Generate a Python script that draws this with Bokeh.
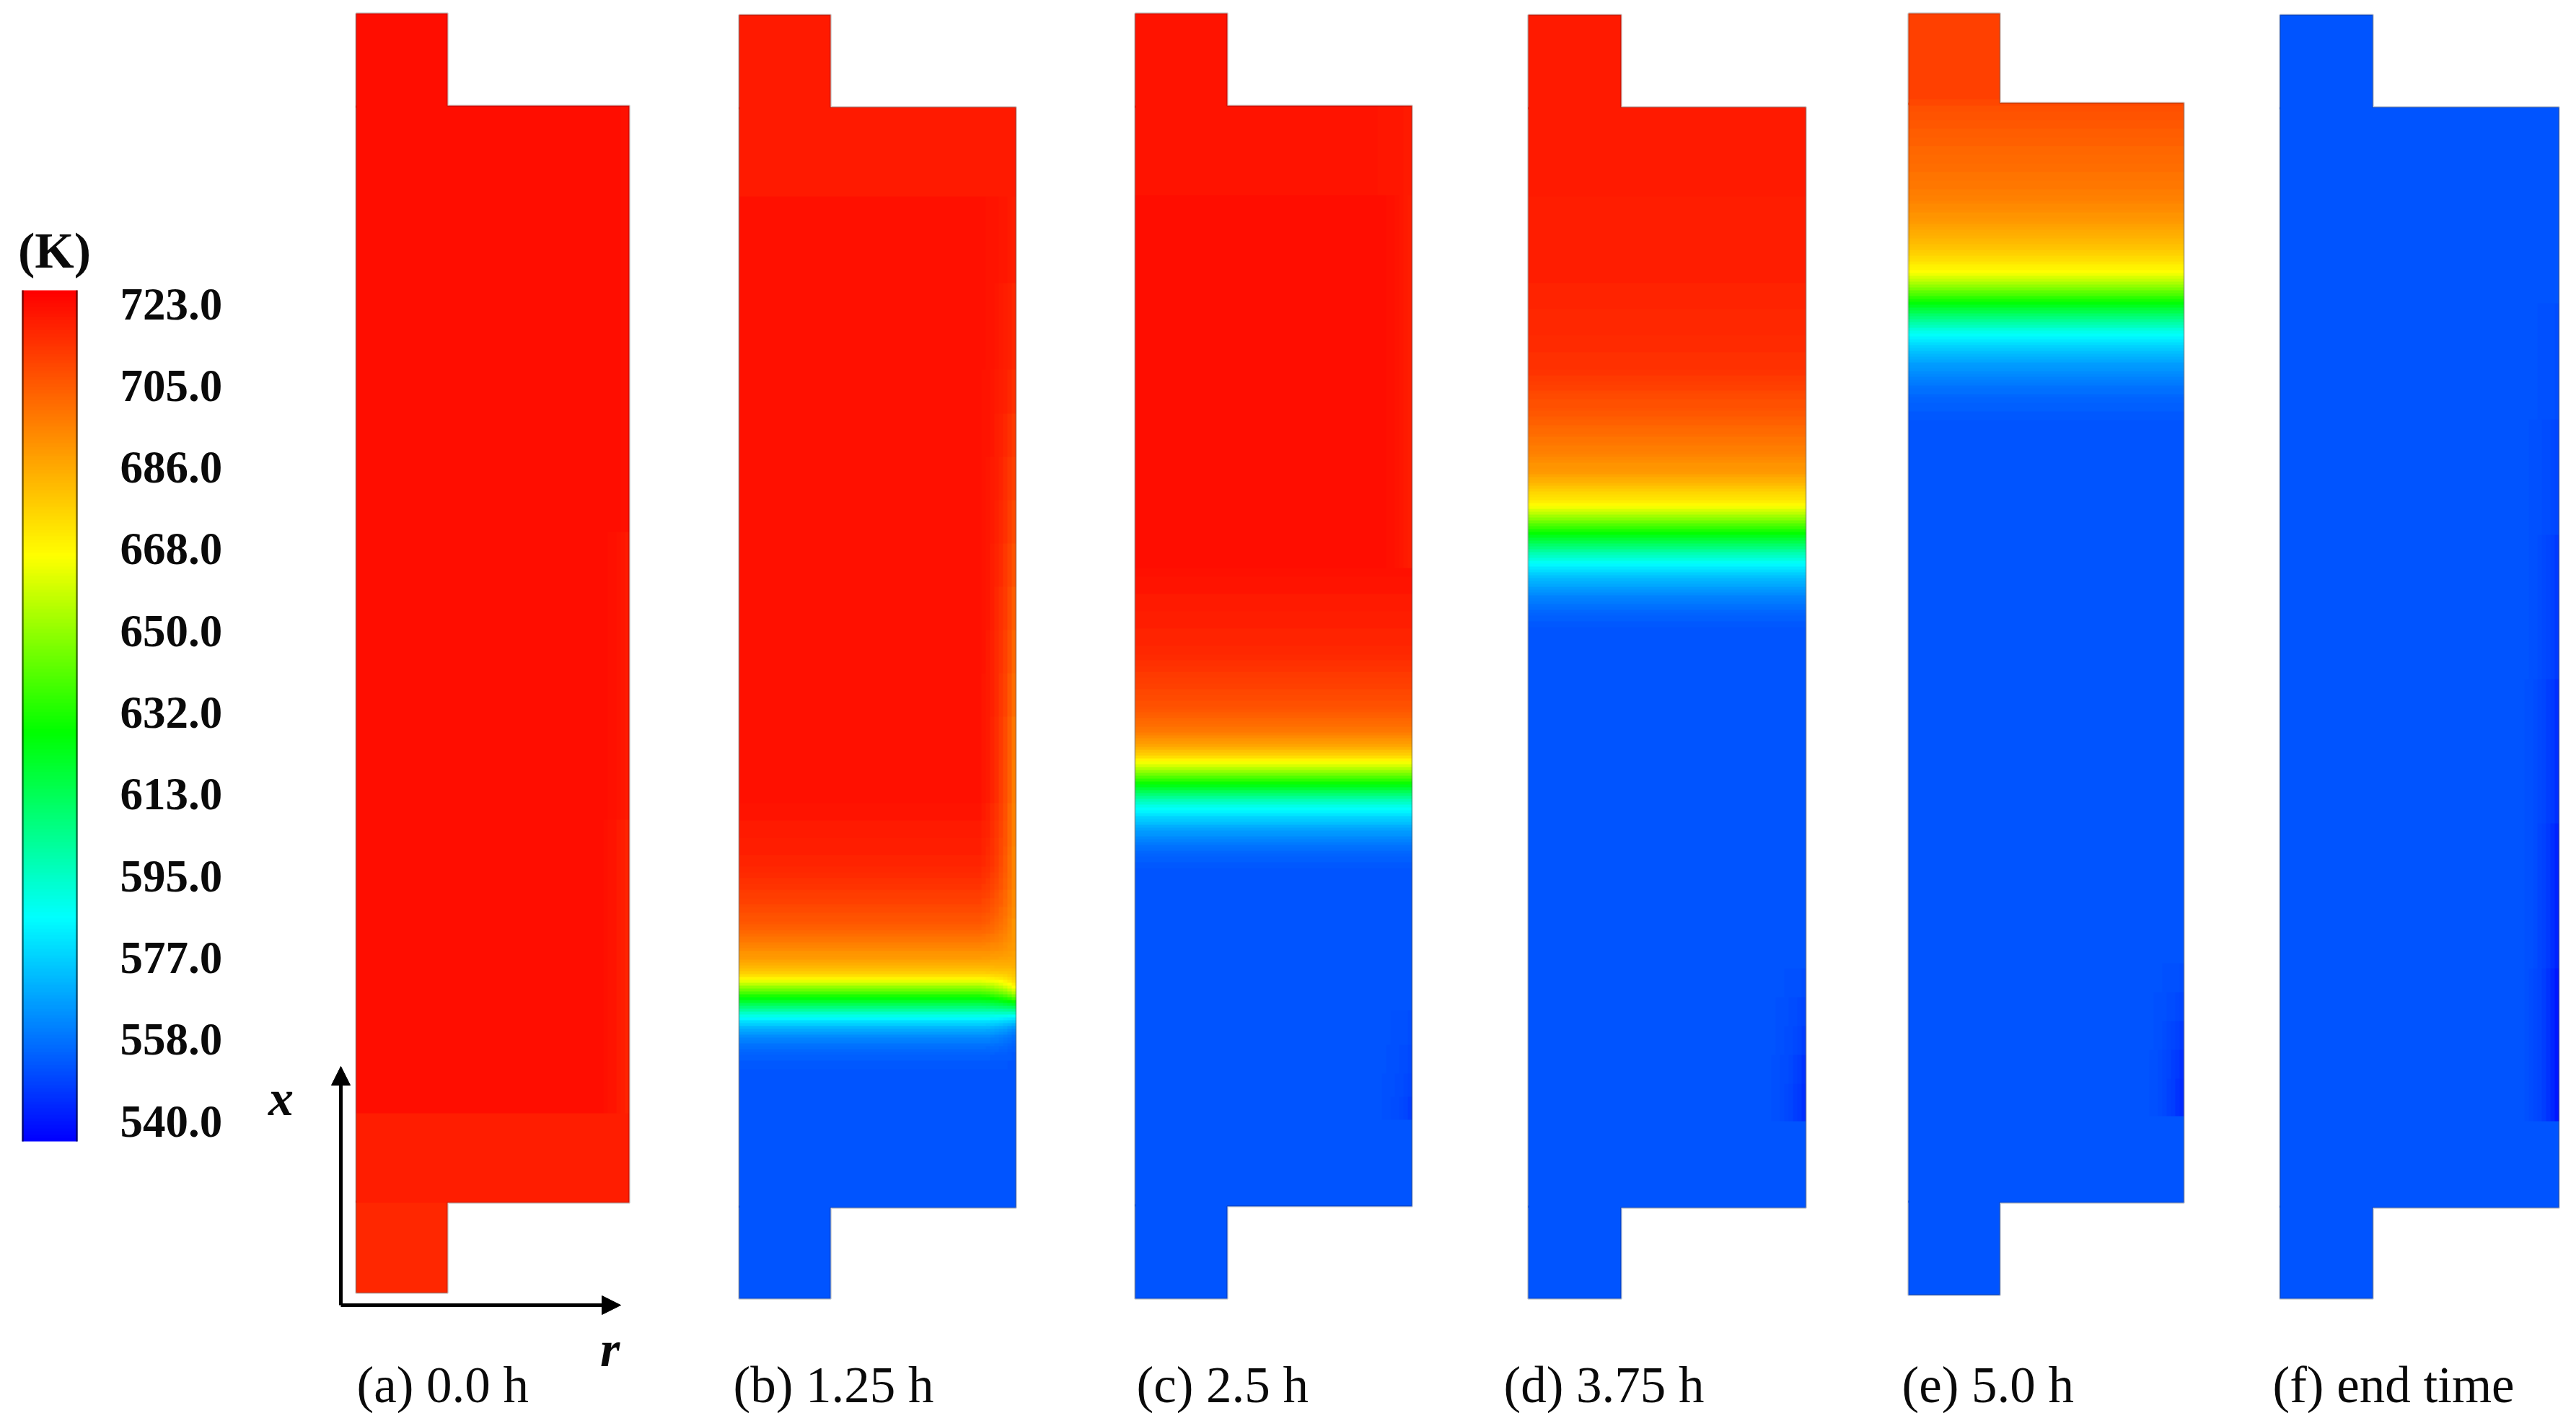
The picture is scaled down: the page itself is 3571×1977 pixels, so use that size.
import numpy as np
from bokeh.embed import file_html
from bokeh.models import Arrow, ColumnDataSource, LinearColorMapper, NormalHead, Range1d
from bokeh.plotting import figure
from bokeh.resources import INLINE

# ---------- values ----------
CAPTIONS = ["(a) 0.0 h", "(b) 1.25 h", "(c) 2.5 h", "(d) 3.75 h", "(e) 5.0 h", "(f) end time"]
TICK_LABELS = ["723.0", "705.0", "686.0", "668.0", "650.0", "632.0", "613.0", "595.0", "577.0", "558.0", "540.0"]
UNIT = "(K)"
T_MIN, T_MAX = 540.0, 723.0
# colour-scale stops (temperature, colour) as seen on the bar
STOP_T = [723, 666, 628, 588, 540]
STOP_RGB = [(255, 0, 0), (255, 255, 0), (0, 255, 0), (0, 255, 255), (0, 0, 255)]
COLD = 556  # temperature of the cold zone

# temperature (K) along the tank, from the top, one value per axial row (445 rows)
# CORE_* = bulk of the section, WALL_* = at the right-hand wall of the wide section
CORE_A = [720] * 382 + [716] * 31 + [714] * 32
WALL_A = [719] * 180 + [717] * 100 + [715] * 102 + [716] * 31 + [714] * 32

HEAD_B = ([717] * 63 + [719] * 207 + [719] * 3 + [718] * 6 + [717] * 6 + [716] * 6 +
          [715, 715, 715, 715, 714, 714, 713, 713, 712, 712, 711, 711, 710, 709, 709, 708, 708, 707,
           706, 706, 705, 704, 704, 703, 702, 701, 700, 698, 697, 696, 694, 693, 692, 690, 689, 688,
           686, 684, 682, 680, 677, 673, 668, 662, 656, 650, 644, 638, 632, 626, 621, 615, 609, 603,
           597, 592, 587, 582, 579, 575, 572, 570, 567, 565, 564, 562, 561, 560, 559, 558, 558, 557,
           557, 557])
CORE_B = HEAD_B + [COLD] * (445 - len(HEAD_B))
HEAD_WB = ([717] * 63 + [716] * 30 + [714] * 30 + [712] * 15 + [710] * 15 + [708] * 15 + [706] * 15 +
           [704] * 15 + [702] * 15 + [700] * 15 + [698] * 15 + [696] * 15 + [695] * 15 + [694] * 15 +
           [693] * 15 + [692] * 6 + [691] * 4 + [690] * 4 + [689] * 4 + [688] * 3 + [687] * 2 +
           [686, 685, 684, 683, 681, 680, 678, 676, 673, 670, 666, 660, 654, 646, 638, 630, 622, 614,
            606, 598, 590, 583, 578, 573, 569, 566, 564, 562, 561, 560, 559, 558, 558, 557, 557, 557])
WALL_B = HEAD_WB + [COLD] * (445 - len(HEAD_WB))

HEAD_C = ([718] * 63 + [720] * 129 + [719] * 3 + [718] * 6 + [717] * 6 + [716] * 6 + [715] * 6 + [714] * 3 +
          [713, 713, 712, 712, 711, 711, 710, 710, 709, 709, 708, 708, 707, 707, 706, 706, 705, 705,
           704, 703, 702, 701, 700, 699, 698, 697, 696, 694, 692, 690, 688, 686, 683, 680, 677, 673,
           668, 664, 660, 655, 650, 645, 640, 635, 630, 625, 620, 615, 610, 605, 600, 596, 592, 589,
           586, 583, 580, 578, 576, 573, 571, 569, 568, 566, 565, 563, 562, 561, 560, 559, 558, 558,
           557, 557])
CORE_C = HEAD_C + [COLD] * (445 - len(HEAD_C))
WALL_C = ([717] * 63 + [716] * 129 + CORE_C[192:345] + [555] * 12 + [554] * 10 + [553] * 8 + [552] * 8 +
          CORE_C[383:])

HEAD_D = ([717] * 63 + [716] * 30 + [715] * 9 + [714] * 9 + [713] * 6 + [712] * 6 +
          [711, 711, 710, 710, 709, 708, 708, 707, 706, 706, 705, 705, 705, 704, 703, 703, 702, 701,
           701, 700, 699, 699, 698, 697, 697, 696, 695, 695, 694, 693, 692, 691, 690, 690, 689, 688,
           686, 684, 683, 681, 679, 677, 675, 673, 672, 670, 667, 664, 660, 656, 652, 648, 644, 640,
           636, 632, 628, 624, 620, 616, 612, 608, 604, 600, 597, 593, 590, 587, 584, 582, 579, 577,
           575, 573, 572, 570, 568, 567, 565, 564, 563, 562, 561, 560, 559, 558, 558, 557, 557])
CORE_D = HEAD_D + [COLD] * (445 - len(HEAD_D))
WALL_D = CORE_D[:330] + [555] * 10 + [553] * 10 + [552] * 10 + [550] * 10 + [549] * 13 + CORE_D[383:]

HEAD_E = ([708] * 30 + [707] * 3 +
          [705, 705, 704, 704, 704, 703, 703, 703, 702, 702, 702, 701, 701, 701, 700, 700, 700, 699,
           699, 699, 698, 698, 698, 697, 697, 697, 696, 696, 696, 695, 695, 694, 694, 693, 692, 692,
           691, 690, 690, 689, 688, 687, 686, 685, 684, 683, 682, 681, 680, 679, 677, 676, 674, 673,
           671, 669, 668, 666, 663, 660, 657, 653, 650, 646, 642, 639, 635, 631, 627, 623, 619, 616,
           612, 608, 605, 601, 598, 594, 591, 589, 586, 584, 582, 580, 578, 576, 575, 573, 572, 570,
           569, 568, 567, 566, 565, 564, 563, 562, 561, 561, 560, 559, 559, 558, 558, 558, 557, 557,
           557])
CORE_E = HEAD_E + [COLD] * (445 - len(HEAD_E))
WALL_E = CORE_E[:330] + [555] * 10 + [553] * 10 + [551] * 10 + [549] * 10 + [548] * 13 + CORE_E[383:]

CORE_F = [COLD] * 445
WALL_F = [COLD] * 100 + [555] * 40 + [553] * 40 + [551] * 50 + [549] * 50 + [547] * 50 + [545] * 53 + [COLD] * 62

CORES = [CORE_A, CORE_B, CORE_C, CORE_D, CORE_E, CORE_F]
WALLS = [WALL_A, WALL_B, WALL_C, WALL_D, WALL_E, WALL_F]
# how far each of the last columns of the wide section follows the wall values
WALL_SHARE = [0.05, 0.1, 0.18, 0.28, 0.4, 0.55, 0.75, 1.0]

# ---------- layout (page pixels of the reference) ----------
W, H = 3571, 1977
NECK_ROWS, BODY_ROWS = 32, 381
BODY_COLS = 64
# left, neck right, body right, top, upper shoulder, lower shoulder, bottom
PANELS = [
    (493, 620, 872, 18, 146, 1667, 1792),
    (1024, 1151, 1408, 20, 148, 1674, 1800),
    (1573, 1701, 1957, 18, 146, 1672, 1800),
    (2118, 2247, 2503, 20, 148, 1674, 1800),
    (2645, 2772, 3027, 18, 142, 1667, 1795),
    (3160, 3289, 3547, 20, 148, 1674, 1800),
]
CAPTION_LEFT = [494, 1016, 1575, 2084, 2636, 3150]
CAPTION_Y = 1919
TICK_Y_TOP, TICK_Y_BOTTOM = 421, 1554
FONT = "Liberation Serif"
INK = "#0a0a0a"


def Y(ref):
    return H - ref


def build_palette():
    out = []
    for i in range(256):
        t = T_MIN + (T_MAX - T_MIN) * i / 255
        rgb = [np.interp(t, STOP_T[::-1], [s[c] for s in STOP_RGB[::-1]]) for c in range(3)]
        out.append("#%02x%02x%02x" % tuple(int(round(v)) for v in rgb))
    return out


mapper = LinearColorMapper(palette=build_palette(), low=T_MIN, high=T_MAX)

# the picture lands on the page without the margin offset, so the range starts at 0
p = figure(width=W - 16, height=H - 16, output_backend="svg", toolbar_location=None,
           x_range=Range1d(0, W - 16), y_range=Range1d(16, H), min_border=0,
           outline_line_color=None, background_fill_color="white", border_fill_color="white")
p.axis.visible = False
p.grid.visible = False


def draw(arr, x0, x1, top, bottom):
    p.image(image=[np.flipud(arr)], x=x0, y=Y(bottom), dw=x1 - x0, dh=bottom - top, color_mapper=mapper)


share = np.zeros(BODY_COLS)
share[-len(WALL_SHARE):] = WALL_SHARE

for (left, neck, right, top, sh_u, sh_l, bottom), core, wall in zip(PANELS, CORES, WALLS):
    core = np.array(core, dtype=float)
    wall = np.array(wall, dtype=float)
    assert core.size == 445 and wall.size == 445, (core.size, wall.size)
    a, b = NECK_ROWS, NECK_ROWS + BODY_ROWS
    # necks run a little under the body so that no seam shows
    draw(core[:a, None].repeat(2, axis=1), left, neck, top, sh_u + 3)
    draw(core[b:, None].repeat(2, axis=1), left, neck, sh_l - 3, bottom)
    body = core[a:b, None] + np.outer(wall[a:b] - core[a:b], share)
    draw(body, left, right, sh_u, sh_l)
    # the slightly darker rim of the outline
    xs = [left, neck, neck, right, right, neck, neck, left, left]
    ys = [top, top, sh_u, sh_u, sh_l, sh_l, bottom, bottom, top]
    p.line(xs, [Y(v) for v in ys], line_color="black", line_alpha=0.16, line_width=3)

# colour bar
bar = np.linspace(T_MIN, T_MAX, 256)[:, None].repeat(2, axis=1)
draw(bar[::-1], 30, 107, 402, 1582)
for bx in (31, 106):
    p.line([bx, bx], [Y(402), Y(1582)], line_color="black", line_alpha=0.55, line_width=2.5)

n = len(TICK_LABELS)
tick_y = [Y(TICK_Y_TOP + (TICK_Y_BOTTOM - TICK_Y_TOP) * i / (n - 1)) for i in range(n)]
p.text(x=[166] * n, y=tick_y, text=TICK_LABELS, text_font=FONT, text_font_style="bold",
       text_font_size="63px", text_baseline="middle", text_align="left", text_color=INK)
p.text(x=[75], y=[Y(347)], text=[UNIT], text_font=FONT, text_font_style="bold",
       text_font_size="70px", text_baseline="middle", text_align="center", text_color=INK)

cap = ColumnDataSource(dict(x=CAPTION_LEFT, y=[Y(CAPTION_Y)] * len(CAPTIONS), t=CAPTIONS))
p.text(x="x", y="y", text="t", source=cap, text_font=FONT, text_font_size="71px",
       text_baseline="middle", text_align="left", text_color=INK)

p.text(x=[389], y=[Y(1522)], text=["x"], text_font=FONT, text_font_style="bold italic",
       text_font_size="70px", text_baseline="middle", text_align="center", text_color=INK)
p.text(x=[845], y=[Y(1870)], text=["r"], text_font=FONT, text_font_style="bold italic",
       text_font_size="70px", text_baseline="middle", text_align="center", text_color=INK)

# r / x axes arrows
for xe, ye in ((472, 1478), (860, 1809)):
    p.add_layout(Arrow(end=NormalHead(size=26, fill_color="black", line_color="black"),
                       x_start=472, y_start=Y(1809), x_end=xe, y_end=Y(ye),
                       line_color="black", line_width=5))

open("out.html", "w").write(file_html(p, INLINE))
